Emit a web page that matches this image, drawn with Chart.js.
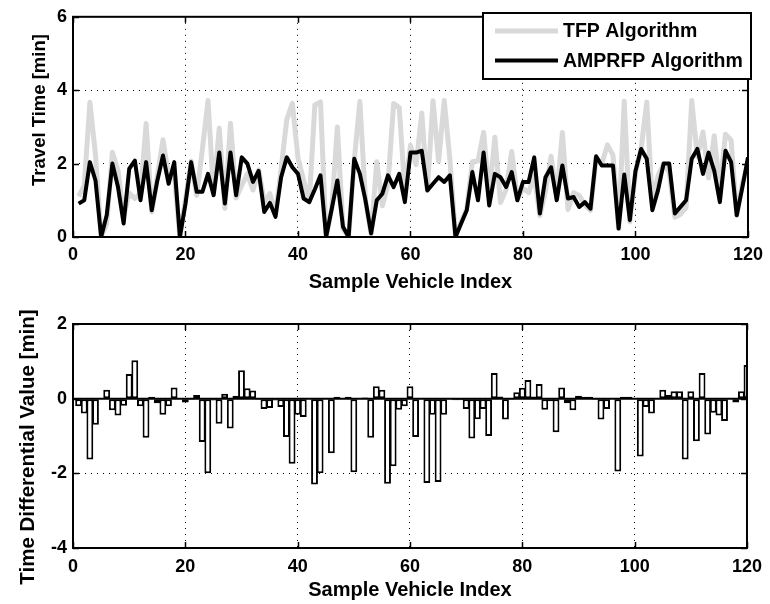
<!DOCTYPE html>
<html><head><meta charset="utf-8">
<script src="https://cdn.jsdelivr.net/npm/chart.js@4.4.1/dist/chart.umd.min.js"></script>
<style>
html,body{margin:0;padding:0;background:#fff;}
#wrap{position:relative;width:770px;height:604px;overflow:hidden;}
canvas{position:absolute;left:0;}
#c1{top:0;}
#c2{top:300px;}
</style></head><body>
<div id="wrap">
<canvas id="c1" width="770" height="300"></canvas>
<canvas id="c2" width="770" height="304"></canvas>
</div>
<script>
// ---- data ----
const tfpTravelTime = [
 1.11,1.40,3.67,2.24,0.00,0.36,2.31,1.81,0.56,1.20,
 1.05,1.20,3.09,0.68,1.66,2.65,1.65,1.74,0.00,1.01,
 2.07,1.13,2.39,3.72,1.19,2.97,0.78,3.10,1.06,1.41,
 1.72,1.28,1.83,0.96,1.18,0.60,1.85,3.20,3.64,2.15,
 1.54,0.95,3.60,3.68,0.00,0.77,3.00,0.23,0.00,2.08,
 3.69,1.00,0.07,2.05,0.85,1.44,3.64,3.53,1.25,2.50,
 1.97,3.38,1.27,3.71,2.06,3.72,2.11,0.02,0.41,0.77,
 2.05,2.07,2.85,1.14,2.72,0.94,1.30,2.33,1.03,1.33,
 1.21,1.67,0.58,1.24,2.20,1.07,2.85,0.75,1.21,1.13,
 0.87,0.72,2.15,1.98,2.51,2.23,0.23,3.70,0.41,1.75,
 2.40,3.68,0.95,1.67,2.00,1.76,0.54,0.62,0.80,3.72,
 2.20,2.86,1.61,2.76,1.33,2.80,2.64,0.59,1.45,1.97];
const amprfpTravelTime = [
 0.91,1.00,2.04,1.54,0.00,0.60,2.00,1.36,0.37,1.86,
 2.08,1.00,2.04,0.73,1.54,2.22,1.45,2.04,0.00,0.91,
 2.04,1.23,1.23,1.72,1.14,2.30,0.91,2.30,1.14,2.17,
 2.00,1.50,1.80,0.68,0.93,0.55,1.63,2.17,1.90,1.72,
 1.05,0.95,1.30,1.68,0.00,0.77,1.54,0.28,0.00,2.13,
 1.72,1.00,0.10,1.00,1.18,1.68,1.36,1.72,0.95,2.30,
 2.30,2.35,1.27,1.45,1.63,1.50,1.68,0.00,0.37,0.73,
 1.77,1.00,2.30,0.86,1.72,1.63,1.36,1.77,1.00,1.50,
 1.50,2.17,0.64,1.63,1.90,1.00,1.95,1.05,1.09,0.82,
 0.95,0.77,2.20,1.95,1.95,1.95,0.23,1.70,0.46,1.80,
 2.40,2.13,0.73,1.27,2.00,2.00,0.64,0.82,1.00,2.13,
 2.40,1.72,2.30,1.80,0.95,2.35,2.04,0.59,1.35,2.17];
const timeDifferential = [
 -0.20,-0.40,-1.63,-0.70,0.00,0.24,-0.31,-0.45,-0.19,0.66,
 1.03,-0.20,-1.05,0.05,-0.12,-0.43,-0.20,0.30,0.00,-0.10,
 -0.03,0.10,-1.16,-2.00,-0.05,-0.67,0.13,-0.80,0.08,0.76,
 0.28,0.22,-0.03,-0.28,-0.25,-0.05,-0.22,-1.03,-1.74,-0.43,
 -0.49,0.00,-2.30,-2.00,0.00,-1.46,0.05,0.00,0.05,-1.97,
 0.00,0.03,-1.05,0.33,0.24,-2.28,-1.81,-0.30,-0.20,0.33,
 -1.03,-0.02,-2.26,-0.43,-2.23,-0.43,-0.02,-0.04,-0.04,-0.28,
 -1.07,-0.55,-0.28,-1.00,0.69,0.06,-0.56,-0.03,0.17,0.29,
 0.50,0.06,0.39,-0.30,-0.07,-0.90,0.30,-0.12,-0.31,0.08,
 0.05,0.05,-0.03,-0.56,-0.28,0.00,-1.95,0.05,0.05,0.00,
 -1.55,-0.22,-0.40,0.00,0.24,0.10,0.20,0.20,-1.63,0.20,
 -1.14,0.69,-0.96,-0.38,-0.45,-0.60,0.00,-0.10,0.20,0.90];
const seriesNames = ['TFP Algorithm','AMPRFP Algorithm'];
const xAxisTitle = 'Sample Vehicle Index';
const topYTitle = 'Travel Time [min]';
const bottomYTitle = 'Time Differential Value [min]';
const xRange = [0,120], xStep = 20;
const topYRange = [0,6], bottomYRange = [-4,2], yStep = 2;

// ---- styling ----
const FONT = "'Liberation Sans', Arial, Helvetica, sans-serif";
const toXY = arr => arr.map((v,i)=>({x:i+1,y:v}));
Chart.defaults.font.family = FONT;
Chart.defaults.color = '#000';

const framePlugin = {
  id:'matlabFrame',
  afterDatasetsDraw(chart){
    const {ctx, chartArea:a, scales} = chart;
    ctx.save();
    ctx.strokeStyle = '#000';
    ctx.lineWidth = 1.5;
    const tl = 6;
    ctx.beginPath();
    scales.x.ticks.forEach(t=>{
      const p = Math.round(scales.x.getPixelForValue(t.value))+0.5;
      ctx.moveTo(p,a.bottom); ctx.lineTo(p,a.bottom-tl);
      ctx.moveTo(p,a.top); ctx.lineTo(p,a.top+tl);
    });
    scales.y.ticks.forEach(t=>{
      const p = Math.round(scales.y.getPixelForValue(t.value))+0.5;
      ctx.moveTo(a.left,p); ctx.lineTo(a.left+tl,p);
      ctx.moveTo(a.right,p); ctx.lineTo(a.right-tl,p);
    });
    ctx.stroke();
    ctx.lineWidth = 2;
    ctx.strokeRect(a.left, a.top, a.right-a.left, a.bottom-a.top);
    ctx.restore();
  }
};

// vertical axis title drawn beside the y scale
const yTitlePlugin = {
  id:'yTitle',
  afterDraw(chart, args, opts){
    const ctx = chart.ctx;
    ctx.save();
    ctx.translate(opts.x, opts.y);
    ctx.rotate(-Math.PI/2);
    ctx.fillStyle = '#000';
    ctx.font = 'bold ' + opts.size + 'px ' + FONT;
    ctx.textAlign = 'center'; ctx.textBaseline = 'middle';
    ctx.fillText(opts.text, 0, 0);
    ctx.restore();
  }
};

const legendPlugin = {
  id:'boxLegend',
  afterDraw(chart){
    const ctx = chart.ctx;
    const bx = 483, by = 13, bw = 268, bh = 66;
    ctx.save();
    ctx.fillStyle = '#fff';
    ctx.fillRect(bx,by,bw,bh);
    ctx.strokeStyle = '#000'; ctx.lineWidth = 2;
    ctx.strokeRect(bx,by,bw,bh);
    [0,1].forEach((di,k)=>{
      const ds = chart.data.datasets[di];
      const y = 31 + k*29.5;
      ctx.beginPath();
      ctx.strokeStyle = ds.borderColor; ctx.lineWidth = ds.borderWidth;
      ctx.moveTo(495,y); ctx.lineTo(558,y); ctx.stroke();
      ctx.fillStyle = '#000';
      ctx.font = 'bold 19.5px ' + FONT;
      ctx.textBaseline = 'middle'; ctx.textAlign = 'left';
      ctx.fillText(ds.label, 563, y+1);
    });
    ctx.restore();
  }
};

function axisOpts(range, step, title, fitFn, titlePad, tickPad){
  return {
    type:'linear', min:range[0], max:range[1], offset:false,
    ticks:{stepSize:step, autoSkip:false, maxRotation:0, padding:tickPad,
           font:{size:18, weight:'bold', family:FONT}, color:'#000'},
    grid:{color:'#000', lineWidth:1, drawTicks:false, offset:false},
    border:{display:false, dash:[1,5]},
    title:{display:!!title, text:title || '', font:{size:20, weight:'bold', family:FONT}, color:'#000', padding:titlePad},
    afterFit: fitFn
  };
}

new Chart(document.getElementById('c1'), {
  type:'line',
  data:{datasets:[
    {label:seriesNames[0], data:toXY(tfpTravelTime), borderColor:'#d9d9d9', borderWidth:5,
     pointRadius:0, tension:0, order:2, clip:0, borderJoinStyle:'round'},
    {label:seriesNames[1], data:toXY(amprfpTravelTime), borderColor:'#000', borderWidth:4,
     pointRadius:0, tension:0, order:1, clip:0, borderJoinStyle:'round'}
  ]},
  options:{
    responsive:false, animation:false, devicePixelRatio:1, events:[],
    layout:{padding:{left:0,right:20,top:15,bottom:0}},
    plugins:{legend:{display:false}, tooltip:{enabled:false},
             yTitle:{text:topYTitle, x:40, y:110, size:18.5}},
    scales:{
      x: axisOpts(xRange, xStep, xAxisTitle, s=>{s.height=63;}, {top:0,bottom:6}, 7),
      y: axisOpts(topYRange, yStep, null, s=>{s.width=73;}, 0, 6)
    }
  },
  plugins:[framePlugin, yTitlePlugin, legendPlugin]
});

new Chart(document.getElementById('c2'), {
  type:'bar',
  data:{datasets:[
    {type:'bar', label:'Time Differential Value', data:toXY(timeDifferential),
     backgroundColor:'#fff', borderColor:'#000', borderWidth:2, borderSkipped:false,
     barPercentage:1.22, categoryPercentage:1, inflateAmount:0, order:1},
    {type:'line', label:'baseline', data:[{x:xRange[0],y:0},{x:xRange[1],y:0}],
     borderColor:'#000', borderWidth:2, pointRadius:0, order:2}
  ]},
  options:{
    responsive:false, animation:false, devicePixelRatio:1, events:[],
    layout:{padding:{left:0,right:20,top:24,bottom:0}},
    plugins:{legend:{display:false}, tooltip:{enabled:false},
             yTitle:{text:bottomYTitle, x:28, y:147, size:20.5}},
    scales:{
      x: axisOpts(xRange, xStep, xAxisTitle, s=>{s.height=56;}, {top:0,bottom:2}, 8),
      y: axisOpts(bottomYRange, yStep, null, s=>{s.width=73;}, 0, 6)
    }
  },
  plugins:[framePlugin, yTitlePlugin]
});
</script>
</body></html>
